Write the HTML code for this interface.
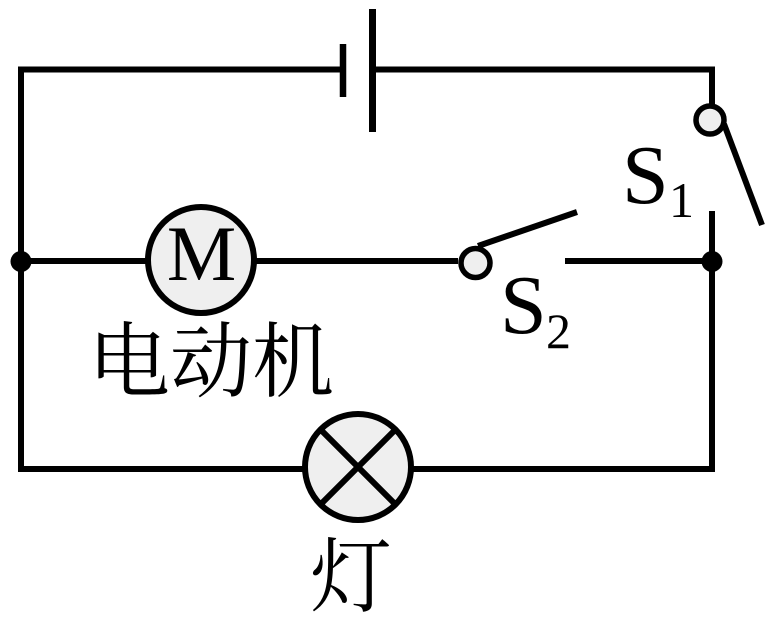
<!DOCTYPE html>
<html>
<head>
<meta charset="utf-8">
<style>
  html, body { margin: 0; padding: 0; background: #ffffff; }
  svg { display: block; }
  .cjk { font-family: "Liberation Serif", "Noto Serif CJK SC", "Noto Serif CJK", serif; }
  .lat { font-family: "Liberation Serif", serif; }
</style>
</head>
<body>
<svg width="773" height="620" viewBox="0 0 773 620" xmlns="http://www.w3.org/2000/svg">
  <g stroke="#000" stroke-width="6" fill="none" stroke-linecap="butt">
    <!-- top wire with battery -->
    <polyline points="21,469 21,69.5 343,69.5"/>
    <polyline points="372,69.5 712,69.5 712,104"/>
    <!-- battery plates -->
    <line x1="343" y1="44" x2="343" y2="97" stroke-width="6.5"/>
    <line x1="372.5" y1="9" x2="372.5" y2="132" stroke-width="7"/>
    <!-- right wire lower -->
    <line x1="712" y1="211" x2="712" y2="472"/>
    <!-- bottom wire -->
    <line x1="18" y1="469" x2="715" y2="469"/>
    <!-- middle wire -->
    <line x1="21" y1="261" x2="458" y2="261"/>
    <line x1="565" y1="261" x2="712" y2="261"/>
    <!-- S1 blade -->
    <line x1="724" y1="124" x2="762" y2="225"/>
    <!-- S2 blade -->
    <line x1="478" y1="246" x2="577" y2="212"/>
  </g>

  <!-- motor -->
  <circle cx="201" cy="260" r="53" fill="#efefef" stroke="#000" stroke-width="6"/>
  <text class="lat" x="201.5" y="280" font-size="78" text-anchor="middle" fill="#000">M</text>

  <!-- lamp -->
  <circle cx="358" cy="467" r="53" fill="#efefef" stroke="#000" stroke-width="6"/>
  <g stroke="#000" stroke-width="6">
    <line x1="320.5" y1="429.5" x2="395.5" y2="504.5"/>
    <line x1="395.5" y1="429.5" x2="320.5" y2="504.5"/>
  </g>

  <!-- switch contacts -->
  <circle cx="710" cy="120" r="14" fill="#efefef" stroke="#000" stroke-width="5.5"/>
  <circle cx="475.5" cy="263" r="14.5" fill="#efefef" stroke="#000" stroke-width="5.5"/>

  <!-- junction dots -->
  <circle cx="21" cy="261.5" r="10.5" fill="#000"/>
  <circle cx="712" cy="261.5" r="10.5" fill="#000"/>

  <!-- labels -->
  <text class="lat" x="622" y="203" font-size="84" fill="#000">S</text>
  <text class="lat" x="669" y="217" font-size="50" fill="#000">1</text>
  <text class="lat" x="500" y="333" font-size="84" fill="#000">S</text>
  <text class="lat" x="546" y="348" font-size="50" fill="#000">2</text>

  <text class="cjk" x="88" y="390" font-size="82" fill="#000">电动机</text>
  <text class="cjk" x="351" y="605" font-size="82" text-anchor="middle" fill="#000">灯</text>
</svg>
</body>
</html>
